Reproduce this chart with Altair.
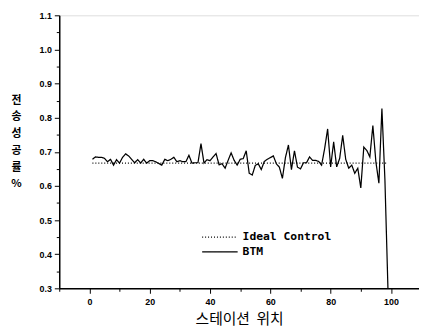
import altair as alt
import pandas as pd

stations = list(range(1, 100))
btm = [
    0.678, 0.685, 0.684, 0.684, 0.681, 0.671, 0.678, 0.661, 0.677, 0.667,
    0.684, 0.694, 0.688, 0.678, 0.668, 0.677, 0.667, 0.678, 0.667, 0.674,
    0.674, 0.671, 0.666, 0.661, 0.678, 0.674, 0.678, 0.684, 0.671, 0.674,
    0.671, 0.671, 0.690, 0.667, 0.668, 0.668, 0.724, 0.667, 0.677, 0.674,
    0.685, 0.695, 0.662, 0.665, 0.652, 0.675, 0.697, 0.675, 0.661, 0.678,
    0.680, 0.703, 0.637, 0.632, 0.660, 0.665, 0.648, 0.672, 0.678, 0.683,
    0.688, 0.665, 0.655, 0.622, 0.683, 0.720, 0.648, 0.703, 0.655, 0.650,
    0.668, 0.668, 0.685, 0.675, 0.675, 0.672, 0.661, 0.709, 0.767, 0.656,
    0.729, 0.656, 0.681, 0.748, 0.678, 0.652, 0.661, 0.637, 0.652, 0.594,
    0.714, 0.704, 0.685, 0.777, 0.671, 0.608, 0.827, 0.618, 0.300,
]
ideal = [0.667] * len(stations)

series_names = ["Ideal Control", "BTM"]

df = pd.concat([
    pd.DataFrame({"station": stations, "value": ideal, "series": "Ideal Control"}),
    pd.DataFrame({"station": stations, "value": btm, "series": "BTM"}),
])

chart = alt.Chart(df).mark_line(clip=True, color="black", strokeWidth=1.25).encode(
    x=alt.X("station:Q",
            scale=alt.Scale(domain=[-10, 109.3], nice=False, zero=False),
            axis=alt.Axis(values=list(range(-10, 111, 10)),
                          labelExpr="datum.value % 20 === 0 ? datum.label : ''",
                          tickSize={"condition": {"test": "datum.value % 20 === 0", "value": 5}, "value": 3},
                          title="스테이션\u00a0\u00a0위치", titleFontSize=15, titleFont="Noto Sans CJK KR",
                          titleFontWeight="normal", titlePadding=6,
                          labelFontSize=9, labelFont="Liberation Sans", labelFontWeight="bold",
                          grid=False, domainColor="black", tickColor="black",
                          domainWidth=1.5, labelPadding=4)),
    y=alt.Y("value:Q",
            scale=alt.Scale(domain=[0.3, 1.1], nice=False, zero=False),
            axis=alt.Axis(values=[round(0.3 + 0.05 * i, 2) for i in range(17)],
                          labelExpr="(round(datum.value*100) % 10 === 0) ? format(datum.value, '.1f') : ''",
                          tickSize={"condition": {"test": "round(datum.value*100) % 10 === 0", "value": 5}, "value": 3},
                          title=["전", "송", "성", "공", "률", "%"],
                          titleAngle=0, titleX=-44, titleY=80, titleAlign="center",
                          titleBaseline="top", titleLineHeight=17,
                          titleFontSize=11, titleFont="Noto Sans CJK KR", titleFontWeight="bold",
                          labelFontSize=9, labelFont="Liberation Sans", labelFontWeight="bold",
                          grid=False, domainColor="black", tickColor="black",
                          domainWidth=1.5, labelPadding=3)),
    strokeDash=alt.StrokeDash("series:N",
                              scale=alt.Scale(domain=series_names, range=[[1, 2], [1, 0]]),
                              legend=alt.Legend(title=None, orient="none", legendX=164, legendY=216,
                                                symbolType="M-3.5,0H1", symbolSize=256,
                                                symbolStrokeColor="black", symbolStrokeWidth=1.2,
                                                labelFont="DejaVu Sans Mono", labelFontSize=11.5,
                                                labelFontWeight="bold", labelOffset=4,
                                                rowPadding=0)),
    order=alt.Order("station:Q"),
).properties(
    width=365, height=277,
    padding={"left": 52, "top": 5, "right": 0, "bottom": 50},
    autosize=alt.AutoSizeParams(type="none"),
).configure_view(stroke="black", strokeWidth=1.5).configure(background="white")

chart.save("out.html", embed_options={"renderer": "svg", "actions": False})
